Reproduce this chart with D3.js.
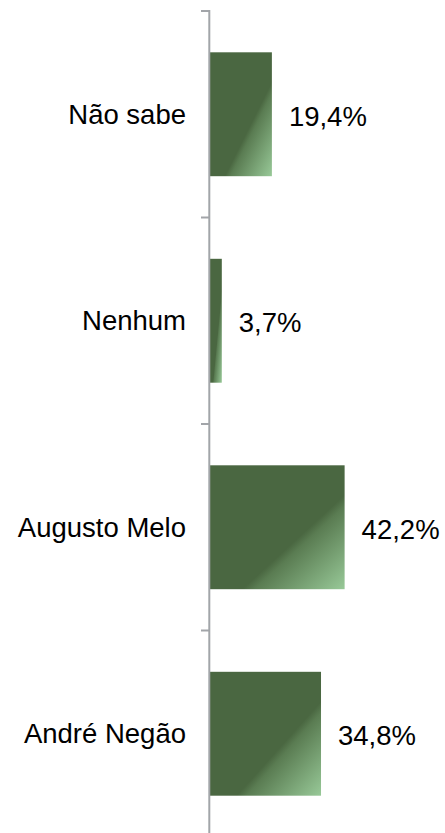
<!DOCTYPE html>
<html>
<head>
<meta charset="utf-8">
<script src="https://cdn.jsdelivr.net/npm/d3@7"></script>
<style>
  body { margin: 0; background: #ffffff; }
  svg { display: block; }
</style>
</head>
<body>
<div id="container"></div>
<script>
// ******* Data *******
var categories = ["Não sabe", "Nenhum", "Augusto Melo", "André Negão"];
var values = [19.4, 3.7, 42.2, 34.8];

var width = 445, height = 833;

// ******* Scales *******
var y = d3.scaleBand()
  .domain(categories)
  .range([11, 837])
  .paddingInner(0.4)
  .paddingOuter(0.2);

var x = d3.scaleLinear()
  .domain([0, 50])
  .range([210, 369.5]);

var ptBR = d3.formatLocale({decimal: ",", thousands: ".", grouping: [3], currency: ["R$", ""]});
var fmt = ptBR.format(".1f");

var svg = d3.select("#container").append("svg")
  .attr("width", width)
  .attr("height", height);

// diagonal gradient on the bars
var grad = svg.append("defs").append("linearGradient")
  .attr("id", "barGrad")
  .attr("x1", 0).attr("y1", 0)
  .attr("x2", 1).attr("y2", 1);
grad.append("stop").attr("offset", 0).attr("stop-color", "#4a6741");
grad.append("stop").attr("offset", 0.62).attr("stop-color", "#4a6741");
grad.append("stop").attr("offset", 0.665).attr("stop-color", "#5a7c52");
grad.append("stop").attr("offset", 1).attr("stop-color", "#98c998");

// ******* Bars *******
svg.selectAll("rect.bar")
  .data(categories)
  .enter().append("rect")
  .attr("class", "bar")
  .attr("x", x(0))
  .attr("y", function(d) { return y(d); })
  .attr("width", function(d, i) { return x(values[i]) - x(0); })
  .attr("height", y.bandwidth())
  .style("fill", "url(#barGrad)");

// ******* Axis (line + ticks at band boundaries) *******
var axisX = 209.3;
var bounds = categories.map(function(d) { return y(d) - y.step() * y.paddingInner() / 2; });
bounds[0] = y.range()[0];

svg.append("line")
  .attr("x1", axisX).attr("x2", axisX)
  .attr("y1", y.range()[0] - 1).attr("y2", height)
  .style("stroke", "#a2a5a9")
  .style("stroke-width", 2);

svg.selectAll("line.tick")
  .data(bounds)
  .enter().append("line")
  .attr("class", "tick")
  .attr("x1", 201).attr("x2", axisX)
  .attr("y1", function(d) { return d; })
  .attr("y2", function(d) { return d; })
  .style("stroke", "#a2a5a9")
  .style("stroke-width", 2);

// ******* Labels *******
svg.selectAll("text.cat")
  .data(categories)
  .enter().append("text")
  .attr("class", "cat")
  .attr("x", 186)
  .attr("y", function(d) { return y(d) + y.bandwidth() / 2; })
  .attr("dy", "0.35em")
  .attr("text-anchor", "end")
  .style("font-family", "Arial, 'Liberation Sans', sans-serif")
  .style("font-size", "27.5px")
  .style("fill", "#000")
  .text(function(d) { return d; });

svg.selectAll("text.val")
  .data(categories)
  .enter().append("text")
  .attr("class", "val")
  .attr("x", function(d, i) { return x(values[i]) + 17; })
  .attr("y", function(d) { return y(d) + y.bandwidth() / 2 + 2; })
  .attr("dy", "0.35em")
  .style("font-family", "Arial, 'Liberation Sans', sans-serif")
  .style("font-size", "27.5px")
  .style("fill", "#000")
  .text(function(d, i) { return fmt(values[i]) + "%"; });
</script>
</body>
</html>
